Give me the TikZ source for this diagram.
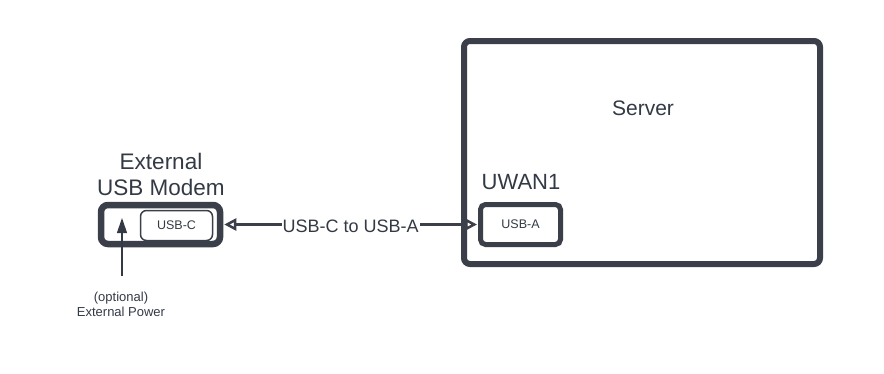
\documentclass[tikz,border=0pt]{standalone}
\usepackage{fontspec}
\setmainfont{Liberation Sans}
\usetikzlibrary{arrows.meta}
\definecolor{ink}{HTML}{3A3F4A}
\definecolor{txt}{HTML}{333A45}
\tikzset{
  heavybox/.style={draw=ink, line width=6pt, rounded corners=6pt, fill=white},
  portbox/.style={draw=ink, line width=1.5pt, rounded corners=6pt},
  lbl/.style={text=txt, inner sep=0pt, align=center},
  cabletip/.tip={Triangle[open,length=12pt,width=12pt,line width=2.5pt]},
}
\begin{document}
\begin{tikzpicture}[x=1pt,y=-1pt]
\useasboundingbox (0,0) rectangle (884,373);
% server
\draw[heavybox] (464,41) rectangle (820,264);
\node[lbl, font=\fontsize{21}{25}\selectfont] (server) at (643,108) {Server};
\node[lbl, font=\fontsize{22}{25}\selectfont] (uwan) at (521,182) {UWAN1};
\node[draw=ink, line width=5pt, rounded corners=5pt, minimum width=80pt, minimum height=40pt, inner sep=0pt] (usba) at (520.5,224.5) {};
\node[lbl, font=\fontsize{12.5}{15}\selectfont] at (usba.center) {USB-A};
% modem
\node[draw=ink, line width=6.5pt, rounded corners=7pt, minimum width=119pt, minimum height=39pt, inner sep=0pt] (modem) at (160.5,224.5) {};
\node[lbl, font=\fontsize{22.5}{26}\selectfont] (mlabel) at (161,174) {External\\USB Modem};
\node[portbox, minimum width=72pt, minimum height=30pt, inner sep=0pt] (usbc) at (176.5,225.5) {};
\node[lbl, font=\fontsize{12.5}{15}\selectfont] at (usbc.center) {USB-C};
% cable
\draw[draw=ink, line width=3pt, cabletip-cabletip, shorten <=1pt, shorten >=1pt]
  (modem.east) -- node[lbl, fill=white, inner xsep=1pt, inner ysep=2pt, font=\fontsize{18}{21}\selectfont, yshift=-2pt] {USB-C to USB-A} (usba.west);
% power
\coordinate (pw) at (122,276);
\node[lbl, font=\fontsize{13}{15}\selectfont] (power) at (121,304.5) {(optional)\\External Power};
\draw[draw=txt, line width=1.2pt, -{Triangle[length=15pt,width=10pt]}] (pw) -- (122,218);
\end{tikzpicture}
\end{document}
